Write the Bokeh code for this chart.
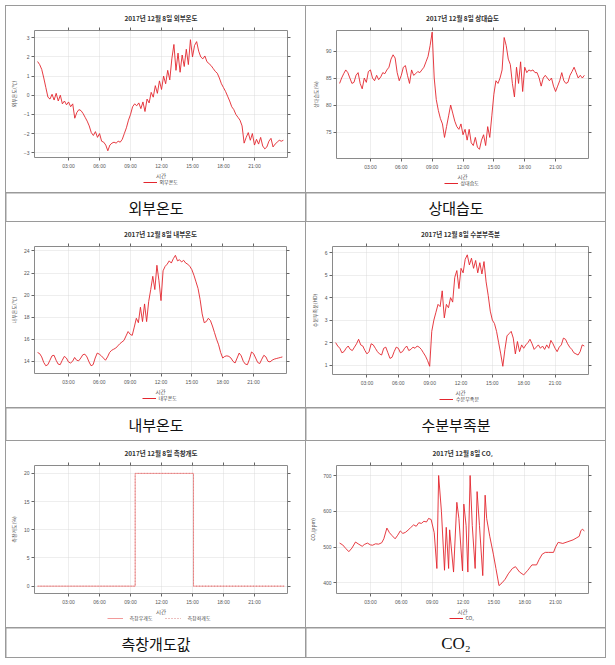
from bokeh.plotting import figure
from bokeh.models import Range1d, FixedTicker, LinearAxis, Legend, LegendItem, Label
from bokeh.layouts import row, column
from bokeh.embed import file_html
from bokeh.resources import INLINE

KR = "Noto Sans CJK KR"
RED = "#e3262e"
NAN = float("nan")

# ---------------- data ----------------
hour_ticks = [3, 6, 9, 12, 15, 18, 21]
hour_labels = ["03:00", "06:00", "09:00", "12:00", "15:00", "18:00", "21:00"]

t_grid = [round(i * 0.2, 1) for i in range(120)]

outside_temp = [
    1.76, 1.6, 1.35, 0.9, 0.4, -0.1, -0.2, 0.05, -0.25, 0.1,
    -0.3, 0.0, -0.45, -0.3, -0.5, -0.35, -0.6, -0.45, -1.2, -0.9,
    -0.75, -0.8, -0.95, -1.15, -1.35, -1.6, -1.95, -2.1, -1.9, -2.2,
    -2.0, -2.4, -2.45, -2.6, -2.9, -2.6, -2.5, -2.45, -2.5, -2.4,
    -2.45, -2.3, -2.0, -1.7, -1.3, -1.0, -0.6, -0.45, -0.55, -0.4,
    -0.7, -0.35, -0.85, -0.2, -0.4, 0.15, -0.1, 0.5, 0.1, 0.75,
    0.3, 1.0, 0.6, 1.3, 0.8, 1.9, 2.65, 1.3, 2.2, 1.2,
    2.1, 1.5, 2.4, 1.6, 2.9, 2.0, 2.6, 2.8, 2.3, 2.0,
    1.9, 2.05, 1.75, 1.65, 1.55, 1.4, 1.25, 1.15, 0.9, 0.6,
    0.4, 0.2, -0.05, -0.3, -0.6, -0.75, -1.0, -1.15, -1.3, -1.6,
    -2.5, -2.2, -1.95, -2.35, -2.0, -2.6, -2.3, -2.55, -2.2, -2.65,
    -2.8, -2.7, -2.4, -2.25, -2.7, -2.55, -2.45, -2.35, -2.4, -2.35,
]

rel_humidity = [
    84, 85, 85.8, 86.5, 86, 85, 84, 84.2, 85.5, 86,
    84, 83, 85, 84.2, 86.2, 86.5, 85, 84.5, 85.5, 84.7,
    85.2, 86, 85.8, 86.5, 87, 88.5, 89.3, 88.7, 86, 84.5,
    85.5, 87, 87.3, 85.5, 84, 86.5, 85.5, 85.8, 86.2, 86,
    86.5, 87, 88, 89, 91, 93.5, 85, 81, 79, 77.5,
    76.5, 74, 76, 78, 80, 78.5, 77, 76, 75.5, 76.5,
    74.5, 75.5, 73.5, 75.5, 73, 72.5, 74, 72.2, 71.8, 73.5,
    74.5, 72.5, 76, 74, 78, 82, 84.5, 84, 85, 86.5,
    92.5, 91, 88.5, 87.5, 84, 81.5, 87, 84, 88, 82.5,
    87, 86, 86.5, 86.3, 86.5, 86, 86, 85, 83.5, 85,
    85.5, 85, 84.5, 85, 83.5, 82.5, 83.5, 84.5, 86, 84.5,
    84, 84.2, 85.5, 86.2, 87, 86, 85, 85.5, 85, 85.5,
]

inside_temp = [
    14.8, 14.7, 14.4, 13.9, 13.6, 13.7, 14.1, 14.5, 14.55, 14.1,
    13.75, 13.7, 14.1, 14.45, 14.3, 13.95, 13.85, 14.0, 14.35, 14.1,
    14.05, 14.3, 14.6, 14.65, 14.4, 13.95, 13.6, 13.7, 14.3, 14.75,
    14.65, 14.5, 14.3, 14.1, 14.4, 14.8, 15.0, 15.1, 15.2, 15.4,
    15.6, 15.75, 15.9, 16.3, 16.7, 16.45, 16.35, 17.1, 17.9, 17.5,
    18.9, 17.6, 19.2, 17.6, 19.4, 20.5, 21.7, 20.5, 22.7, 21.3,
    19.5, 22.2, 22.6, 22.8, 23.1, 22.9, 23.3, 23.6, 23.1, 23.2,
    23.0, 23.15, 22.9, 22.8, 22.6, 22.3, 21.8, 21.2, 20.6, 19.6,
    18.3, 17.5, 17.6, 17.9, 17.7, 17.2, 16.6, 16.0, 15.5, 14.8,
    14.3, 14.45, 14.5, 14.45, 14.3, 14.0, 13.85, 14.3, 14.75, 14.5,
    14.0, 13.75, 13.7, 14.2, 14.85, 14.7, 14.3, 13.9, 13.8, 14.2,
    14.55, 14.4, 14.0, 13.95, 14.1, 14.2, 14.25, 14.3, 14.35, 14.4,
]

humidity_deficit = [
    2.0, 1.85, 1.75, 1.55, 1.6, 1.75, 1.85, 1.7, 1.65, 1.8,
    1.95, 2.15, 1.9, 1.85, 1.65, 1.5, 1.6, 1.95, 1.9, 1.75,
    1.6, 1.5, 1.45, 1.75, 1.8, 1.55, 1.3, 1.35, 1.6, 1.8,
    1.75, 1.55, 1.6, 1.75, 1.85, 1.65, 1.7, 1.8, 1.75, 1.85,
    1.8, 1.7, 1.55, 1.4, 1.2, 0.95, 2.5, 3.0, 3.35, 3.7,
    3.6, 4.3, 3.1, 3.7, 3.55, 4.0, 3.8, 4.9, 5.2, 4.4,
    5.3, 5.1, 5.7, 5.9, 5.45, 5.75, 5.3, 5.65, 5.1, 5.55,
    5.05, 5.6, 4.7, 4.1, 3.4, 3.0, 2.85, 2.5, 2.0, 1.5,
    0.95, 1.7, 2.3, 2.4, 2.5, 2.2, 1.5, 2.05, 1.6, 1.9,
    1.75, 1.9, 2.0, 2.15, 1.95, 1.7, 1.8, 1.9, 1.75, 1.85,
    1.7, 1.9, 1.75, 2.1, 1.95, 1.75, 1.6, 1.8, 1.9, 2.2,
    2.15, 1.95, 1.8, 1.7, 1.55, 1.5, 1.45, 1.6, 1.9, 1.85,
]

vent_hours = [0.0, 9.45, 15.1, 23.9]
vent_right = [0, 20, 0, 0]
vent_left = [0, 20, 0, 0]

co2_hours = [
    0.0, 0.3, 0.6, 0.9, 1.2, 1.55, 1.8, 2.2, 2.4, 2.7, 3.0, 3.2, 3.5, 3.8, 4.1,
    4.3, 4.6, 4.85, 5.1, 5.4, 5.65, 5.9, 6.15, 6.4, 6.65, 6.9, 7.2, 7.45, 7.7, 7.95,
    8.2, 8.45, 8.65, 8.9, 9.2, 9.46, 9.63, 9.9, 10.2, 10.37, 10.6, 10.7, 11.08, 11.4,
    11.6, 11.95, 12.08, 12.3, 12.47, 12.69, 12.9, 13.18, 13.37, 13.6, 13.92, 14.15,
    14.3, 14.6, 14.95, 15.2, 15.5, 15.8, 16.1, 16.4, 16.8, 17.1, 17.5, 17.9, 18.3,
    18.7, 19.15, 19.4, 19.7, 20.0, 20.3, 20.8, 21.0, 21.25, 21.7, 22.2, 22.7, 23.0,
    23.3, 23.45, 23.6, 23.8,
]
co2_ppm = [
    511, 506, 496, 487, 497, 514, 509, 502, 507, 511, 506, 505, 509, 508, 512,
    523, 553, 540, 532, 523, 533, 545, 538, 541, 547, 554, 562, 558, 568, 566,
    572, 570, 580, 577, 540, 440, 700, 600, 435, 555, 440, 548, 430, 625,
    580, 433, 620, 560, 430, 700, 560, 440, 655, 560, 420, 645,
    580, 530, 480, 440, 392, 400, 410, 425, 440, 445, 430, 422, 435,
    450, 450, 465, 480, 485, 485, 485, 500, 513, 510, 515, 520, 525,
    530, 545, 550, 545,
]

# ---------------- helpers ----------------
X_RANGE = (-0.3, 24.2)
CELL_W = 299
AXIS_B = 12   # space below each frame kept for tick labels


def chart(h, title, ylabel, yr, yticks, borders):
    l, r, t, b = borders
    p = figure(width=CELL_W, height=h - b + AXIS_B, x_range=Range1d(*X_RANGE),
               y_range=Range1d(*yr), output_backend="svg", toolbar_location=None,
               min_border_left=l, min_border_right=r, min_border_top=t,
               min_border_bottom=AXIS_B)
    p.background_fill_color = "white"
    p.border_fill_color = "white"
    p.outline_line_color = "#8a8a8a"
    p.outline_line_width = 1

    xt = FixedTicker(ticks=hour_ticks)
    yt = FixedTicker(ticks=yticks)

    for ax in (p.xaxis[0], p.yaxis[0]):
        ax.major_label_text_font = "Liberation Sans"
        ax.major_label_text_font_size = "5px"
        ax.major_label_text_color = "#555555"
        ax.major_label_standoff = 2
        ax.major_tick_out = 3
        ax.major_tick_in = 0
        ax.minor_tick_out = 0
        ax.minor_tick_in = 0
        ax.major_tick_line_color = "#666666"
        ax.axis_line_color = None
        ax.axis_label_text_font = KR
        ax.axis_label_text_font_style = "normal"
        ax.axis_label_text_color = "#555555"

    xa = p.xaxis[0]
    xa.ticker = xt
    xa.major_label_overrides = {tk: lab for tk, lab in zip(hour_ticks, hour_labels)}

    ya = p.yaxis[0]
    ya.ticker = yt
    ya.axis_label = ylabel
    ya.axis_label_text_font_size = "5px"
    ya.axis_label_standoff = 4

    p.xgrid.ticker = xt
    p.ygrid.ticker = yt
    for g in (p.xgrid, p.ygrid):
        g.grid_line_color = "#d4d4d4"
        g.grid_line_dash = "1 1"
        g.grid_line_width = 0.8

    for side, tk in (("above", xt), ("right", yt)):
        a = LinearAxis(ticker=tk, major_label_text_font_size="2px", major_label_text_alpha=0,
                       major_label_standoff=0,
                       axis_line_color=None, major_tick_out=3, major_tick_in=0,
                       minor_tick_out=0, minor_tick_in=0, major_tick_line_color="#666666")
        p.add_layout(a, side)

    p.title.text = title
    p.title.align = "center"
    p.title.text_font = KR
    p.title.text_font_size = "6.5px"
    p.title.text_font_style = "bold"
    p.title.text_color = "#333333"
    p.title.standoff = 9
    p.title.offset = 149.5 - (l + (CELL_W - r)) / 2.0
    return p


def strip(borders, entries, est_width, spacing=12, glyph_width=14, standoff=3):
    """x-axis title and legend drawn beneath a chart frame (frame aligned with the chart)."""
    l, r, t, b = borders
    hs = b - AXIS_B
    fw = CELL_W - l - r
    s = figure(width=CELL_W, height=hs, x_range=Range1d(0, 1), y_range=Range1d(0, hs),
               output_backend="svg", toolbar_location=None,
               min_border_left=l, min_border_right=r, min_border_top=0, min_border_bottom=0,
               x_axis_location=None, y_axis_location=None)
    s.grid.visible = False
    s.outline_line_color = None
    s.background_fill_color = "white"
    s.border_fill_color = "white"
    s.add_layout(Label(x=0.5, y=hs - 4.7, text="시간", text_align="center",
                       text_baseline="middle", text_font=KR, text_font_size="5.5px",
                       text_color="#555555"))
    items = []
    for lab, color, dash in entries:
        rr = s.line(x=[NAN, NAN], y=[NAN, NAN], line_color=color, line_width=1, line_dash=dash)
        items.append(LegendItem(label=lab, renderers=[rr]))
    lg = Legend(items=items, location=((fw - est_width) / 2.0, hs - 14),
                orientation="horizontal",
                label_text_font=KR, label_text_font_size="5px", label_text_color="#444444",
                glyph_width=glyph_width, glyph_height=6, label_height=6,
                label_standoff=standoff, spacing=spacing, padding=0, margin=0,
                border_line_color=None, background_fill_alpha=0)
    s.add_layout(lg)
    return s


def caption(h, text, font, size):
    p = figure(width=CELL_W, height=h, x_range=Range1d(0, 1), y_range=Range1d(0, 1),
               output_backend="svg", toolbar_location=None, min_border=0,
               x_axis_location=None, y_axis_location=None)
    p.grid.visible = False
    p.outline_line_color = None
    p.background_fill_color = "white"
    p.border_fill_color = "white"
    p.add_layout(Label(x=0.5, y=0.5, text=text, text_align="center", text_baseline="middle",
                       text_font=font, text_font_size=size, text_color="#111111"))
    return p


# ---------------- charts ----------------
b1 = (27, 18, 20, 33)
c1 = chart(186, "2017년 12월 8일 외부온도", "외부온도(℃)", (-3.25, 3.38),
           [-3, -2, -1, 0, 1, 2, 3], b1)
c1.line(t_grid, outside_temp, line_color=RED, line_width=0.9)
s1 = strip(b1, [("외부온도", RED, "solid")], 37)

b2 = (30, 17, 22, 32)
c2 = chart(186, "2017년 12월 8일 상대습도", "상대습도(%)", (70.1, 93.8),
           [75, 80, 85, 90], b2)
c2.line(t_grid, rel_humidity, line_color=RED, line_width=0.9)
s2 = strip(b2, [("상대습도", RED, "solid")], 37)

b3 = (28, 19, 21, 32)
c3 = chart(185, "2017년 12월 8일 내부온도", "내부온도(℃)", (12.9, 24.4),
           [14, 16, 18, 20, 22, 24], b3)
c3.line(t_grid, inside_temp, line_color=RED, line_width=0.9)
s3 = strip(b3, [("내부온도", RED, "solid")], 37)

b4 = (26, 17, 21, 31)
c4 = chart(185, "2017년 12월 8일 수분부족분", "수분부족분(HD)", (0.585, 6.27),
           [1, 2, 3, 4, 5, 6], b4)
c4.line(t_grid, humidity_deficit, line_color=RED, line_width=0.9)
s4 = strip(b4, [("수분부족분", RED, "solid")], 42)

b5 = (28, 18, 22, 32)
c5 = chart(186, "2017년 12월 8일 측창개도", "측창개도(%)", (-1.3, 21.4),
           [0, 5, 10, 15, 20], b5)
c5.step(vent_hours, vent_right, mode="after", line_color="#f29a9a", line_width=1)
c5.step(vent_hours, vent_left, mode="after", line_color="#d98080", line_width=1,
        line_dash="1 2")
s5 = strip(b5, [("측창우개도", "#f29a9a", "solid"), ("측창좌개도", "#d98080", "1 2")], 108,
           spacing=12, glyph_width=16, standoff=7)

b6 = (30, 17, 21, 32)
c6 = chart(186, "2017년 12월 8일 CO₂", "CO₂(ppm)", (370, 728),
           [400, 500, 600, 700], b6)
c6.line(co2_hours, co2_ppm, line_color=RED, line_width=0.9)
s6 = strip(b6, [("CO₂", RED, "solid")], 27)

# ---------------- captions ----------------
k1 = caption(28, "외부온도", KR, "15px")
k2 = caption(28, "상대습도", KR, "15px")
k3 = caption(32, "내부온도", KR, "15px")
k4 = caption(32, "수분부족분", KR, "15px")
k5 = caption(29, "측창개도값", KR, "15px")
k6 = caption(29, "CO₂", "Liberation Serif", "17px")


def cell(a, b):
    return column(a, b, spacing=0, styles={"background-color": "white"})


layout = column(
    row(cell(c1, s1), cell(c2, s2), spacing=1),
    row(k1, k2, spacing=1),
    row(cell(c3, s3), cell(c4, s4), spacing=1),
    row(k3, k4, spacing=1),
    row(cell(c5, s5), cell(c6, s6), spacing=1),
    row(k5, k6, spacing=1),
    spacing=1,
    styles={"background-color": "#9a9a9a", "padding": "1px"},
    margin=(5, 0, 0, 5),
)

open("out.html", "w").write(file_html(layout, INLINE))
